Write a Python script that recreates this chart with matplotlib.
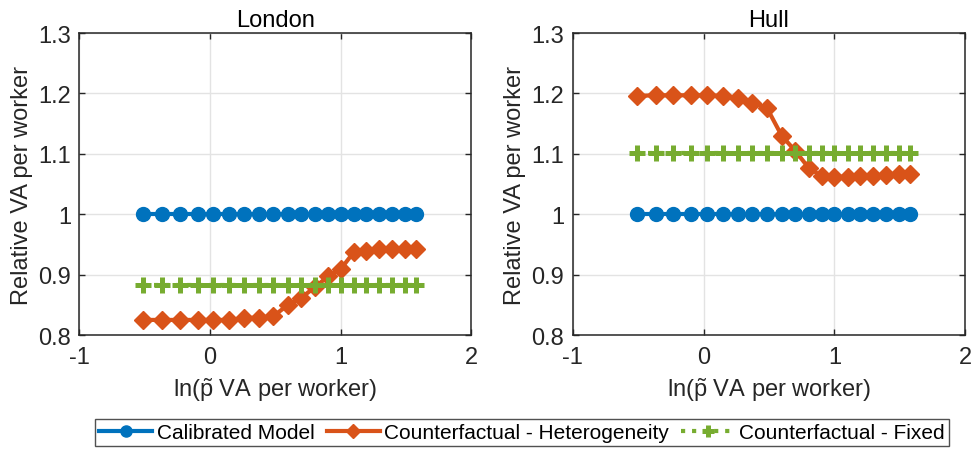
import numpy as np
import matplotlib
matplotlib.use("Agg")
import matplotlib.pyplot as plt

plt.rcParams['font.family'] = ['Liberation Sans', 'DejaVu Sans']
plt.rcParams['mathtext.fontset'] = 'custom'
plt.rcParams['mathtext.rm'] = 'Liberation Sans'
plt.rcParams['mathtext.it'] = 'Liberation Sans'

# ln(p~ VA per worker) grid
x = [-0.51, -0.365, -0.23, -0.095, 0.025, 0.145, 0.26, 0.372, 0.484, 0.597,
     0.70, 0.802, 0.903, 1.0, 1.10, 1.197, 1.294, 1.39, 1.49, 1.58]

# London
london_calib = [1.0] * 20
london_het = [0.825, 0.825, 0.825, 0.825, 0.825, 0.825, 0.828, 0.829, 0.831, 0.850,
              0.862, 0.879, 0.897, 0.909, 0.937, 0.939, 0.942, 0.943, 0.943, 0.942]
london_fixed = [0.883] * 20

# Hull
hull_calib = [1.0] * 20
hull_het = [1.196, 1.197, 1.197, 1.197, 1.197, 1.196, 1.193, 1.185, 1.176, 1.130,
            1.105, 1.077, 1.063, 1.062, 1.062, 1.063, 1.063, 1.065, 1.066, 1.067]
hull_fixed = [1.101] * 20

titles = ['London', 'Hull']
series = [(london_calib, london_het, london_fixed), (hull_calib, hull_het, hull_fixed)]
labels = ['Calibrated Model', 'Counterfactual - Heterogeneity', 'Counterfactual - Fixed']

c_blue = '#0072BD'
c_orange = '#D95319'
c_green = '#77AC30'
c_ax = '#262626'
fs = 17

fig = plt.figure(figsize=(9.74, 4.52), dpi=100)
positions = [[0.0814, 0.2566, 0.4025, 0.668], [0.5879, 0.2566, 0.4033, 0.668]]

for pos, title, (calib, het, fixed) in zip(positions, titles, series):
    ax = fig.add_axes(pos)
    ax.plot(x, calib, color=c_blue, lw=3, marker='o', ms=10, mfc=c_blue, mec=c_blue, mew=1,
            label=labels[0])
    ax.plot(x, het, color=c_orange, lw=3, marker='D', ms=9.5, mfc=c_orange, mec=c_orange, mew=1,
            label=labels[1])
    ax.plot(x, fixed, color=c_green, lw=3, ls=':', marker='+', ms=11.5, mec=c_green, mew=3.6,
            label=labels[2])
    ax.set_xlim(-1, 2)
    ax.set_ylim(0.8, 1.3)
    ax.set_xticks([-1, 0, 1, 2])
    ax.set_xticklabels(['-1', '0', '1', '2'])
    ax.set_yticks([0.8, 0.9, 1.0, 1.1, 1.2, 1.3])
    ax.set_yticklabels(['0.8', '0.9', '1', '1.1', '1.2', '1.3'])
    ax.grid(True, color='#e3e3e3', lw=1)
    ax.set_axisbelow(True)
    ax.tick_params(direction='in', top=True, right=True, length=4, width=1, colors=c_ax,
                   labelsize=fs)
    ax.tick_params(axis='x', pad=8)
    ax.tick_params(axis='y', pad=6)
    for s in ax.spines.values():
        s.set_color(c_ax)
        s.set_linewidth(1.1)
    ax.set_title(title, fontsize=fs, color='black', pad=5)
    ax.set_xlabel(r'ln($\tilde{\mathrm{p}}$ VA per worker)', fontsize=fs, color=c_ax, labelpad=5)
    ax.set_ylabel('Relative VA per worker', fontsize=fs, color=c_ax, labelpad=4)

handles, labs = ax.get_legend_handles_labels()
leg = fig.legend(handles, labs, loc='center', bbox_to_anchor=(0.5357, 0.041), ncol=3,
                 fontsize=15, frameon=True, fancybox=False, handlelength=2.55,
                 handletextpad=0.2, columnspacing=0.6, borderpad=0.2, borderaxespad=0,
                 markerscale=0.8)
leg.get_frame().set_edgecolor(c_ax)
leg.get_frame().set_linewidth(1)

fig.savefig('out.png', dpi=100)
